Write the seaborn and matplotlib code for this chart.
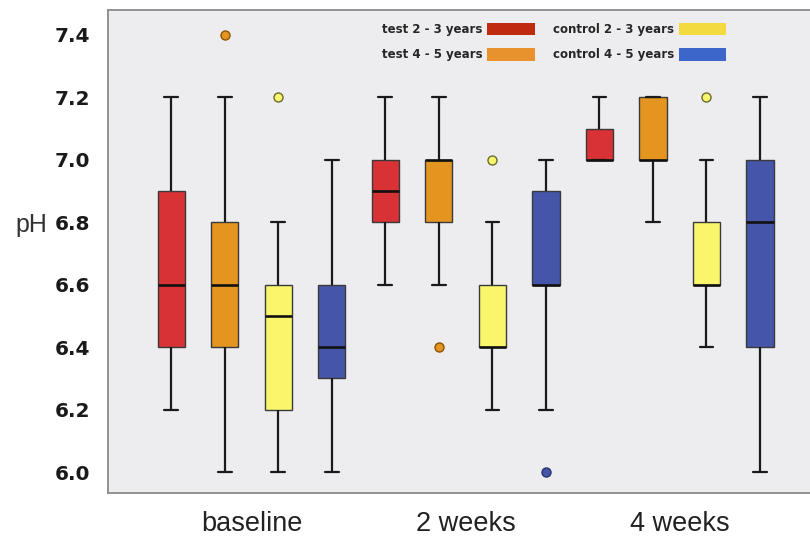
import numpy as np
import pandas as pd
import seaborn as sns
import matplotlib
matplotlib.use("Agg")
import matplotlib.pyplot as plt
from matplotlib.patches import Patch

times = ["baseline", "2 weeks", "4 weeks"]
groups = ["test 2 - 3 years", "test 4 - 5 years",
          "control 2 - 3 years", "control 4 - 5 years"]

baseline_test_23 = [6.2, 6.3, 6.4, 6.5, 6.6, 6.8, 6.9, 7.0, 7.2]
baseline_test_45 = [6.0, 6.2, 6.4, 6.5, 6.6, 6.7, 6.8, 7.2, 7.4]
baseline_ctrl_23 = [6.0, 6.1, 6.2, 6.4, 6.5, 6.6, 6.6, 6.8, 7.2]
baseline_ctrl_45 = [6.0, 6.2, 6.3, 6.4, 6.4, 6.5, 6.6, 6.8, 7.0]

week2_test_23 = [6.6, 6.7, 6.8, 6.9, 6.9, 7.0, 7.0, 7.1, 7.2]
week2_test_45 = [6.4, 6.6, 6.8, 6.9, 7.0, 7.0, 7.0, 7.1, 7.2]
week2_ctrl_23 = [6.2, 6.3, 6.4, 6.4, 6.4, 6.5, 6.6, 6.8, 7.0]
week2_ctrl_45 = [6.0, 6.2, 6.6, 6.6, 6.6, 6.8, 6.9, 7.0, 7.0]

week4_test_23 = [7.0, 7.0, 7.0, 7.0, 7.0, 7.1, 7.1, 7.2, 7.2]
week4_test_45 = [6.8, 6.9, 7.0, 7.0, 7.0, 7.1, 7.2, 7.2, 7.2]
week4_ctrl_23 = [6.4, 6.5, 6.6, 6.6, 6.6, 6.7, 6.8, 7.0, 7.2]
week4_ctrl_45 = [6.0, 6.2, 6.4, 6.6, 6.8, 6.9, 7.0, 7.1, 7.2]

box_colors = ["#D83236", "#E39520", "#F9F66C", "#4455AA"]
flier_edges = ["#7a1a1a", "#8a5400", "#6a6a30", "#2a3470"]
legend_colors = ["#BF2B0E", "#E8922E", "#F2DA40", "#3C66C9"]

samples = {
    ("baseline", groups[0]): baseline_test_23,
    ("baseline", groups[1]): baseline_test_45,
    ("baseline", groups[2]): baseline_ctrl_23,
    ("baseline", groups[3]): baseline_ctrl_45,
    ("2 weeks", groups[0]): week2_test_23,
    ("2 weeks", groups[1]): week2_test_45,
    ("2 weeks", groups[2]): week2_ctrl_23,
    ("2 weeks", groups[3]): week2_ctrl_45,
    ("4 weeks", groups[0]): week4_test_23,
    ("4 weeks", groups[1]): week4_test_45,
    ("4 weeks", groups[2]): week4_ctrl_23,
    ("4 weeks", groups[3]): week4_ctrl_45,
}
rows = [(t, g, v) for (t, g), vals in samples.items() for v in vals]
df = pd.DataFrame(rows, columns=["time", "group", "pH"])

# ---- figure ----
sns.set_style("white")
fig = plt.figure(figsize=(8.10, 5.38), dpi=100)
ax = fig.add_axes([108 / 810, 1 - 493 / 538, 1.0 - 108 / 810 + 0.003, (493 - 10) / 538])
ax.set_facecolor("#EDEDF0")

sns.boxplot(data=df, x="time", y="pH", hue="group", order=times, hue_order=groups,
            palette=box_colors, saturation=1, width=1.0, gap=0.49, whis=1.4,
            linecolor="#1a1a1a", linewidth=1.3, fliersize=6.5, legend=False, ax=ax,
            boxprops={"edgecolor": "#3a3a3a", "linewidth": 1.0},
            medianprops={"color": "#111111", "linewidth": 1.9},
            whiskerprops={"color": "#1a1a1a", "linewidth": 1.6},
            capprops={"color": "#1a1a1a", "linewidth": 1.6},
            flierprops={"marker": "o"})

# colour fliers like their boxes, collect box centres for ticks
box_centres = []
for k, cont in enumerate(ax.containers):
    for fl in cont.fliers:
        fl.set_markerfacecolor(box_colors[k])
        fl.set_markeredgecolor(flier_edges[k])
        fl.set_markeredgewidth(1.0)
    for b in cont.boxes:
        v = b.get_path().vertices
        box_centres.append((v[:, 0].min() + v[:, 0].max()) / 2)

ax.set_xlim(-0.67, 2.62)
ax.set_ylim(5.933, 7.48)

yt = [6.0, 6.2, 6.4, 6.6, 6.8, 7.0, 7.2, 7.4]
ax.set_yticks(yt)
ax.set_yticklabels([f"{v:.1f}" for v in yt], fontsize=14.5, fontweight="bold",
                   family="DejaVu Sans", color="#1a1a1a")
ax.set_xticks(sorted(box_centres))
ax.set_xticklabels([])
ax.set_xticks(range(len(times)), minor=True)
ax.set_xticklabels(times, minor=True, fontsize=19.5, family="Liberation Sans", color="#222222")
ax.tick_params(axis="x", which="minor", length=0, pad=13)
ax.tick_params(axis="x", which="major", length=4, width=1, color="#999999", direction="out")
ax.tick_params(axis="y", length=6, width=1, color="#999999", direction="out", pad=7)
ax.set_xlabel("")

ax.set_ylabel("pH", rotation=0, fontsize=18, family="Liberation Sans", color="#333333")
ax.yaxis.set_label_coords(-(108 - 32) / 702, (493 - 225) / 483)
ax.yaxis.label.set_verticalalignment("center")
ax.yaxis.label.set_horizontalalignment("center")

for s in ["left", "bottom", "top", "right"]:
    ax.spines[s].set_color("#8a8a8a")
    ax.spines[s].set_linewidth(1.3)
    ax.spines[s].set_visible(True)

handles = [Patch(facecolor=c, edgecolor="none") for c in legend_colors]
leg = ax.legend(handles, groups, ncol=2, frameon=False, markerfirst=False,
                loc="upper right", bbox_to_anchor=(726 / 810, 1 - 23 / 538),
                bbox_transform=fig.transFigure, borderpad=0, borderaxespad=0,
                prop={"family": "DejaVu Sans", "weight": "bold", "size": 8.5},
                handlelength=4.0, handleheight=1.2, handletextpad=0.4,
                columnspacing=1.55, labelspacing=1.05)

fig.savefig("out.png", dpi=100)
